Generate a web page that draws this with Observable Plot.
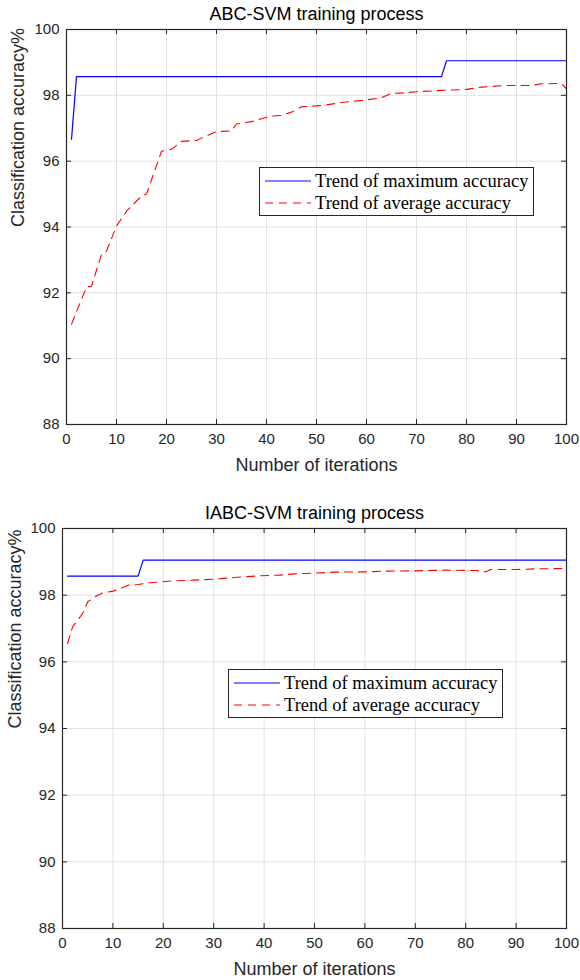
<!DOCTYPE html>
<html>
<head>
<meta charset="utf-8">
<script src="https://cdn.jsdelivr.net/npm/d3@7"></script>
<script src="https://cdn.jsdelivr.net/npm/@observablehq/plot@0.6"></script>
<style>
  body { margin: 0; background: #fff; }
  #wrap { position: relative; width: 580px; height: 980px; background: #fff; overflow: hidden; }
  .panel { position: absolute; left: 0; width: 580px; }
  .legend { position: absolute; border: 1px solid #262626; background: #fff; box-sizing: border-box;
            font-family: "Liberation Serif", "Times New Roman", serif; font-size: 18.5px; color: #000; }
  .legend .row { position: absolute; left: 0; height: 22px; white-space: nowrap; }
  .legend svg { position: absolute; left: 0; top: 0; }
  .legend span { position: absolute; top: 0; line-height: 22px; }
</style>
</head>
<body>
<div id="wrap"></div>
<script>
// ---------- data ----------
const xTicks = [0, 10, 20, 30, 40, 50, 60, 70, 80, 90, 100];
const yTicks = [88, 90, 92, 94, 96, 98, 100];
const legendLabels = ["Trend of maximum accuracy", "Trend of average accuracy"];

// ABC-SVM
const abcTitle = "ABC-SVM training process";
const abcMaxIter = [1, 2, 75, 76, 100];
const abcMaxAcc  = [96.67, 98.57, 98.57, 99.05, 99.05];
const abcAvgIter = [1, 4, 5, 7, 8, 10, 12, 15, 16, 19, 21, 23, 26, 27, 30, 33, 34, 37, 39, 41, 43, 45, 47, 50, 52, 55, 58, 60, 63, 65, 68, 70, 75, 80, 83, 88, 93, 95, 99, 100];
const abcAvgAcc  = [91.05, 92.18, 92.2, 93.17, 93.27, 94.03, 94.48, 94.94, 95.0, 96.3, 96.36, 96.6, 96.63, 96.7, 96.9, 96.92, 97.13, 97.2, 97.29, 97.37, 97.39, 97.49, 97.65, 97.68, 97.71, 97.78, 97.83, 97.86, 97.93, 98.06, 98.08, 98.11, 98.15, 98.18, 98.25, 98.3, 98.3, 98.35, 98.36, 98.2];

// IABC-SVM
const iabcTitle = "IABC-SVM training process";
const iabcMaxIter = [1, 15, 16, 100];
const iabcMaxAcc  = [98.57, 98.57, 99.05, 99.05];
const iabcAvgIter = [1, 2, 4, 5, 7, 8, 10, 11, 13, 15, 17, 19, 22, 26, 30, 34, 39, 43, 46, 50, 54, 60, 64, 70, 76, 82, 84, 85, 90, 94, 100];
const iabcAvgAcc  = [96.55, 97.05, 97.45, 97.8, 98.0, 98.07, 98.12, 98.17, 98.3, 98.32, 98.37, 98.39, 98.43, 98.45, 98.48, 98.53, 98.58, 98.6, 98.64, 98.66, 98.69, 98.7, 98.72, 98.73, 98.75, 98.74, 98.70, 98.77, 98.77, 98.79, 98.8];

const xLabel = "Number of iterations";
const yLabel = "Classification accuracy%";

// ---------- drawing ----------
const BLUE = "#0000ff", RED = "#ff0000", DASH = "8,6", AX = "#262626";

function chart(opts) {
  const {title, maxI, maxA, avgI, avgA, width, height, mL, mR, mT, mB, titleDy, yLabDx} = opts;
  const fw = width - mL - mR, fh = height - mT - mB;
  const maxData = maxI.map((x, i) => ({x, y: maxA[i]}));
  const avgData = avgI.map((x, i) => ({x, y: avgA[i]}));
  return Plot.plot({
    width, height,
    marginLeft: mL, marginRight: mR, marginTop: mT, marginBottom: mB,
    style: {fontFamily: "'Liberation Sans', Arial, Helvetica, sans-serif", fontSize: "15px", color: AX, background: "#fff"},
    x: {domain: [0, 100], axis: null},
    y: {domain: [88, 100], axis: null},
    marks: [
      Plot.gridX(xTicks, {stroke: "#e2e2e2", strokeOpacity: 1}),
      Plot.gridY(yTicks, {stroke: "#e2e2e2", strokeOpacity: 1}),
      Plot.line(avgData, {x: "x", y: "y", stroke: RED, strokeWidth: 1.1, strokeDasharray: DASH}),
      Plot.line(maxData, {x: "x", y: "y", stroke: BLUE, strokeWidth: 1.2}),
      Plot.frame({stroke: AX, strokeWidth: 1.2}),
      // inward ticks
      Plot.ruleX(xTicks, {x: d => d, insetTop: fh - 5, stroke: AX}),
      Plot.ruleX(xTicks, {x: d => d, insetBottom: fh - 5, stroke: AX}),
      Plot.ruleY(yTicks, {y: d => d, insetRight: fw - 5, stroke: AX}),
      Plot.ruleY(yTicks, {y: d => d, insetLeft: fw - 5, stroke: AX}),
      Plot.axisX(xTicks, {tickSize: 0, tickPadding: 9, label: null, fill: AX, fontSize: 15}),
      Plot.axisY(yTicks, {tickSize: 0, tickPadding: 7, label: null, fill: AX, fontSize: 15}),
      Plot.text([title], {text: d => d, frameAnchor: "top", dy: titleDy, lineAnchor: "middle", fontSize: 18, fill: "#000"}),
      Plot.text([xLabel], {text: d => d, frameAnchor: "bottom", dy: 41, lineAnchor: "middle", fontSize: 18, fill: AX}),
      Plot.text([yLabel], {text: d => d, frameAnchor: "left", dx: yLabDx, rotate: -90, lineAnchor: "middle", fontSize: 18, fill: AX})
    ]
  });
}

function legend(left, top) {
  const div = document.createElement("div");
  div.className = "legend";
  Object.assign(div.style, {left: left + "px", top: top + "px", width: "275px", height: "49px"});
  const styles = [{stroke: BLUE, dash: null}, {stroke: RED, dash: DASH}];
  legendLabels.forEach((lab, i) => {
    const row = document.createElement("div");
    row.className = "row";
    row.style.top = (2 + i * 22) + "px";
    const s = styles[i];
    row.innerHTML = `<svg width="54" height="22"><line x1="5" x2="51" y1="11" y2="11" stroke="${s.stroke}" stroke-width="1.2" ${s.dash ? `stroke-dasharray="${s.dash}"` : ""}/></svg><span style="left:55px">${lab}</span>`;
    div.appendChild(row);
  });
  return div;
}

const wrap = document.getElementById("wrap");

const p1 = document.createElement("div");
p1.className = "panel"; p1.style.top = "0px";
p1.appendChild(chart({title: abcTitle, maxI: abcMaxIter, maxA: abcMaxAcc, avgI: abcAvgIter, avgA: abcAvgAcc,
  width: 580, height: 490, mL: 66, mR: 14, mT: 29, mB: 66, titleDy: -15, yLabDx: -48}));
wrap.appendChild(p1);

const p2 = document.createElement("div");
p2.className = "panel"; p2.style.top = "490px";
p2.appendChild(chart({title: iabcTitle, maxI: iabcMaxIter, maxA: iabcMaxAcc, avgI: iabcAvgIter, avgA: iabcAvgAcc,
  width: 580, height: 490, mL: 62, mR: 14, mT: 38, mB: 52, titleDy: -15, yLabDx: -47}));
wrap.appendChild(p2);

wrap.appendChild(legend(259, 167));
wrap.appendChild(legend(228, 669));
</script>
</body>
</html>
